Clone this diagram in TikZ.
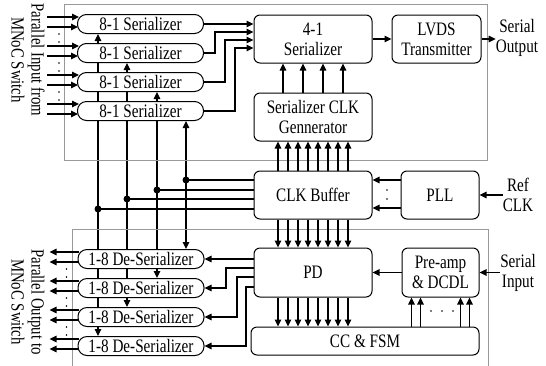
\documentclass[tikz,border=0pt]{standalone}
\usepackage{fontspec}
\setmainfont{Liberation Serif}[FakeStretch=0.8]
\usetikzlibrary{arrows.meta,calc,backgrounds}
\tikzset{
  blk/.style={
    draw, fill=white, line width=1pt, rounded corners=6pt,
    align=center, inner sep=0pt, font=\fontsize{19}{20}\selectfont,
  },
  ser blk/.style={
    blk, rounded corners=9pt, minimum width=126pt, minimum height=19pt,
  },
  big blk/.style={
    blk, minimum width=118pt, minimum height=48pt,   % middle column
  },
  sig/.style={line width=1.2pt},
  arr/.style={sig, -{Triangle[length=7pt,width=6.5pt]}},
  group box/.style={draw=black!40, line width=0.8pt},
  lbl/.style={align=center, inner sep=0pt, font=\fontsize{19}{20}\selectfont},
  side lbl/.style={lbl, rotate=-90, font=\fontsize{18.5}{20}\selectfont},
}

\begin{document}
\begin{tikzpicture}[x=1pt, y=-1pt]
\useasboundingbox (0,0) rectangle (546,365);

% Transmitter / receiver frames
\draw[group box] (64,4) rectangle (487,160);
\draw[group box] (72,366) -- (72,229) -- (488,229) -- (488,366);

% Serializers and de-serializers
\foreach \i/\y in {1/24, 2/53, 3/82, 4/111}
  \node[ser blk] (ser\i) at (140.5,\y) {8-1 Serializer};
\foreach \i/\y in {1/259, 2/288, 3/317, 4/346}
  \node[ser blk] (des\i) at (141,\y) {1-8 De-Serializer};

% Middle column
\node[big blk] (mux) at (313,39) {4-1\\Serializer};
\node[big blk] (gen) at (313,117) {Serializer CLK\\Gennerator};
\node[big blk] (buf) at (313,195) {CLK Buffer};
\node[big blk, minimum height=49pt] (pd) at (313,272.5) {PD};

% Right column
\node[blk, minimum width=89pt, minimum height=48pt] (lvds) at (436.5,39) {LVDS\\Transmitter};
\node[blk, minimum width=78pt, minimum height=48pt] (pll) at (440,195) {PLL};
\node[blk, minimum width=77pt, minimum height=49pt] (pre) at (440.5,272.5) {Pre-amp\\\& DCDL};
\node[blk, minimum width=228pt, minimum height=28pt] (cc) at (365,341) {CC \& FSM};

% Outside labels
\node[side lbl] (pin) at (28,60) {Parallel Input from\\MNoC Switch};
\node[side lbl] (pout) at (28,302) {Parallel Output to\\MNoC Switch};
\node[lbl] (sout) at (517,38) {Serial\\Output};
\node[lbl] (ref) at (518,195) {Ref\\CLK};
\node[lbl] (sin) at (518,273) {Serial\\Input};

% Parallel inputs / outputs (2 of 8 shown)
\foreach \i in {1,...,4} {
  \draw[arr] ($(ser\i.west)+(-30,-7)$) -- ($(ser\i.west)+(2,-7)$);
  \draw[arr] ($(ser\i.west)+(-30,3)$) -- ($(ser\i.west)+(1,3)$);
  \draw[arr] ($(des\i.west)+(1,-7)$) -- ($(des\i.west)+(-28,-7)$);
  \draw[arr] ($(des\i.west)+(1,3)$) -- ($(des\i.west)+(-28,3)$);
}
\foreach \i in {1,2,3} {
  \fill ($(ser\i.west)+(-18,10)$) circle (0.9);
  \fill ($(ser\i.west)+(-18,18)$) circle (0.9);
  \fill ($(des\i.west)+(-11,10)$) circle (0.9);
  \fill ($(des\i.west)+(-11,18)$) circle (0.9);
}

% Serializer outputs into 4-1
\draw[arr] (ser1.east) -- (ser1.east -| mux.west);
\foreach \i/\jx/\ey in {2/215/32, 3/225/40, 4/235/48} {
  \coordinate (m\i) at (\jx,\ey);
  \draw[arr] (ser\i.east) -| (m\i) -- (m\i -| mux.west);
}

% PD outputs into de-serializers
\draw[arr] (pd.west |- des1) -- (des1.east);
\foreach \i/\jx/\sy in {2/226/268, 3/237/277, 4/246/287} {
  \coordinate (r\i) at (\jx,\sy);
  \draw[arr] (r\i -| pd.west) -- (r\i) |- (des\i.east);
}

% Clock taps from CLK Buffer (behind the blocks)
\begin{scope}[on background layer]
\foreach \i/\x/\y/\d in {1/98/209/4, 2/127/199/3, 3/157/190/2, 4/186/180/1} {
  \coordinate (tap\i) at (\x,\y);
  \draw[sig] (tap\i) -- (tap\i -| buf.west);
  \draw[arr] (tap\i) -- (tap\i |- ser\i.south);
  \draw[arr] (tap\i) -- (tap\i |- des\d.north);
  \fill (tap\i) circle (3.5);
}
\end{scope}

% Clock buses
\foreach \dx in {-35,-25,...,35} {
  \draw[arr] ($(buf.north)+(\dx,0)$) -- ($(gen.south)+(\dx,0)$);
  \draw[arr] ($(buf.south)+(\dx,0)$) -- ($(pd.north)+(\dx,0)$);
  \path ($(pd.south)+(\dx,0)$) coordinate (q);
  \draw[arr] (q) -- (q |- cc.north);
}
\foreach \dx in {-30,-10,10,30}
  \draw[arr] ($(gen.north)+(\dx,0)$) -- ($(mux.south)+(\dx,0)$);

% Transmit path
\draw[arr] (mux.east) -- (lvds.west);
\draw[arr] (lvds.east) -- (lvds.east -| sout.west);

% PLL
\foreach \dy in {-15,13}
  \draw[arr] ($(pll.west)+(0,\dy)$) -- ($(buf.east)+(0,\dy)$);
\fill (387,190) circle (0.9);
\fill (387,199) circle (0.9);
\draw[arr] (ref.west |- pll) -- (pll.east);

% Receive path
\draw[arr] (sin.west |- pre) -- (pre.east);
\draw[arr] (pre.west) -- (pre.west -| pd.east);
\foreach \dx in {-29,-20,20,29} {
  \path ($(pre.south)+(\dx,0)$) coordinate (q);
  \draw[arr] (q |- cc.north) -- (q);
}
\foreach \x in {431,442,453}
  \fill (\x,311) circle (0.9);

\end{tikzpicture}
\end{document}
